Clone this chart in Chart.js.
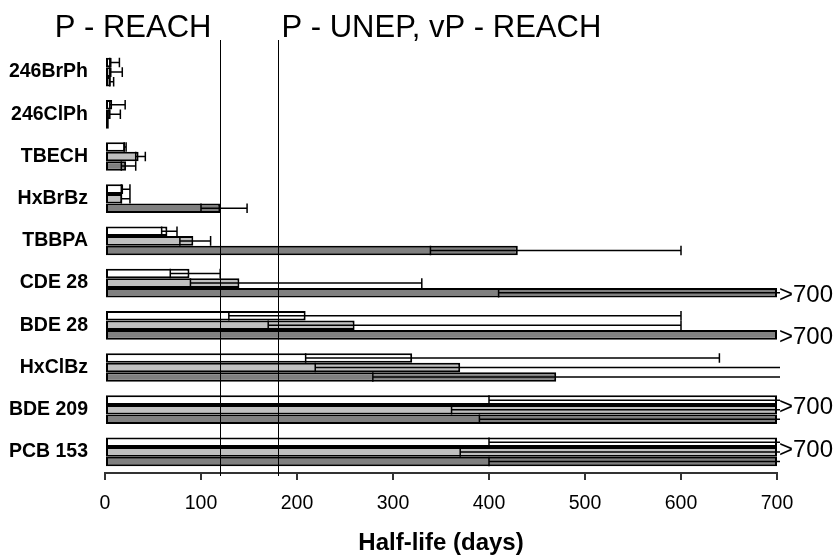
<!DOCTYPE html>
<html>
<head>
<meta charset="utf-8">
<script src="https://cdn.jsdelivr.net/npm/chart.js@4.4.1/dist/chart.umd.min.js"></script>
<style>
    html, body { margin: 0; padding: 0; background: #fff; }
</style>
</head>
<body>
<canvas id="half-life-chart" width="837" height="555"></canvas>
<script>
var categories = ["246BrPh", "246ClPh", "TBECH", "HxBrBz", "TBBPA", "CDE 28", "BDE 28", "HxClBz", "BDE 209", "PCB 153"];

// white bars
var whiteVals = [7, 7.5, 21, 19, 65, 88, 209, 320, 700, 700];
var whiteLow  = [5, 5, 20, 17, 59, 68, 129, 209, 400, 400];
var whiteHigh = [15, 21, 22, 26, 75, 120, 600, 640, 710, 710];

// light grey bars
var lightVals = [7, 6, 35, 18, 92, 140, 260, 370, 700, 700];
var lightLow  = [5, 4, 32, 17, 78, 89, 170, 219, 361, 370];
var lightHigh = [18, 16, 42, 26, 110, 330, 600, 710, 710, 710];

// dark grey bars
var darkVals = [6, 4, 22, 120, 430, 700, 700, 470, 700, 700];
var darkLow  = [5, null, 17, 100, 339, 410, null, 279, 390, 400];
var darkHigh = [9, null, 32, 148, 600, 710, null, 710, 710, 710];

var xTicks = [0, 100, 200, 300, 400, 500, 600, 700];
var thresholds = [120, 180];
var thresholdLabels = ["P - REACH", "P - UNEP, vP - REACH"];
var overflowLabels = ["", "", "", "", "", ">700", ">700", "", ">700", ">700"];

Chart.defaults.font.family = '"Liberation Sans", Arial, sans-serif';
Chart.defaults.color = '#000';

//error bars: line from low to high, caps where the end is on scale
var errorBars = {
    id: 'errorBars',
    afterDatasetsDraw: function (chart) {
        var ctx = chart.ctx, x = chart.scales.x, area = chart.chartArea;
        ctx.save();
        ctx.strokeStyle = '#000';
        ctx.lineWidth = 1.5;
        chart.data.datasets.forEach(function (ds, di) {
            var meta = chart.getDatasetMeta(di);
            meta.data.forEach(function (bar, i) {
                var lo = ds.errLow[i], hi = ds.errHigh[i];
                if (lo == null || hi == null) return;
                var x1 = x.getPixelForValue(lo);
                var x2 = Math.min(x.getPixelForValue(hi), area.right + 3);
                var half = bar.height / 2;
                ctx.beginPath();
                ctx.moveTo(x1, bar.y);
                ctx.lineTo(x2, bar.y);
                ctx.moveTo(x1, bar.y - half);
                ctx.lineTo(x1, bar.y + half);
                if (hi <= x.max) {
                    ctx.moveTo(x2, bar.y - half);
                    ctx.lineTo(x2, bar.y + half);
                }
                ctx.stroke();
            });
        });
        ctx.restore();
    }
};

//threshold lines with their labels
var thresholdLines = {
    id: 'thresholdLines',
    afterDatasetsDraw: function (chart) {
        var ctx = chart.ctx, x = chart.scales.x, area = chart.chartArea;
        ctx.save();
        ctx.strokeStyle = '#000';
        ctx.lineWidth = 1;
        ctx.fillStyle = '#000';
        ctx.font = '31px "Liberation Sans", Arial, sans-serif';
        ctx.textBaseline = 'alphabetic';
        thresholds.forEach(function (v, k) {
            var px = Math.round(x.getPixelForValue(v)) + 0.5;
            ctx.beginPath();
            ctx.moveTo(px, area.top - 11);
            ctx.lineTo(px, area.bottom + 3);
            ctx.stroke();
            ctx.textAlign = k === 0 ? 'right' : 'left';
            ctx.fillText(thresholdLabels[k], k === 0 ? px - 9 : px + 3, 37);
        });
        ctx.restore();
    }
};

//">700" notes to the right of off-scale bars
var overflowNotes = {
    id: 'overflowNotes',
    afterDraw: function (chart, args, opts) {
        var ctx = chart.ctx, area = chart.chartArea;
        ctx.save();
        ctx.fillStyle = '#000';
        ctx.font = '24px "Liberation Sans", Arial, sans-serif';
        ctx.textAlign = 'left';
        ctx.textBaseline = 'middle';
        overflowLabels.forEach(function (txt, i) {
            if (!txt) return;
            var row = opts.rows[i];
            var bar = chart.getDatasetMeta(row).data[i];
            ctx.fillText(txt, area.right + 2, bar.y + (row === 2 ? 3 : -2));
        });
        ctx.restore();
    }
};

function makeSet(label, vals, lo, hi, color) {
    return {
        label: label,
        data: vals,
        errLow: lo,
        errHigh: hi,
        backgroundColor: color,
        borderColor: '#000',
        borderWidth: 2,
        borderSkipped: false,
        categoryPercentage: 0.68,
        barPercentage: 1.0
    };
}

var chart = new Chart(document.getElementById('half-life-chart'), {
    type: 'bar',
    data: {
        labels: categories,
        datasets: [
            makeSet('white', whiteVals, whiteLow, whiteHigh, '#ffffff'),
            makeSet('light', lightVals, lightLow, lightHigh, '#c0c0c0'),
            makeSet('dark', darkVals, darkLow, darkHigh, '#808080')
        ]
    },
    options: {
        indexAxis: 'y',
        responsive: false,
        animation: false,
        layout: { padding: { top: 51, right: 60, bottom: 0, left: 0 } },
        plugins: {
            legend: { display: false },
            tooltip: { enabled: false },
            overflowNotes: { rows: { 5: 2, 6: 2, 8: 1, 9: 1 } }
        },
        scales: {
            x: {
                min: 0,
                max: 700,
                afterBuildTicks: function (s) {
                    s.ticks = xTicks.map(function (v) { return { value: v }; });
                },
                grid: { drawOnChartArea: false, drawTicks: true, tickLength: 7, color: '#333', lineWidth: 2 },
                border: { display: true, color: '#333', width: 2 },
                ticks: { color: '#000', font: { size: 19.5 }, padding: 12, maxRotation: 0 },
                title: {
                    display: true,
                    text: 'Half-life (days)',
                    color: '#000',
                    font: { size: 24, weight: 'bold' },
                    padding: { top: 0, bottom: -3 }
                },
                afterFit: function (s) { s.height = 82; }
            },
            y: {
                grid: { display: false, drawTicks: false },
                border: { display: false },
                ticks: { color: '#000', font: { size: 19.5, weight: 'bold' }, padding: 17 },
                afterFit: function (s) { s.width = 105; }
            }
        }
    },
    plugins: [errorBars, thresholdLines, overflowNotes]
});
</script>
</body>
</html>
